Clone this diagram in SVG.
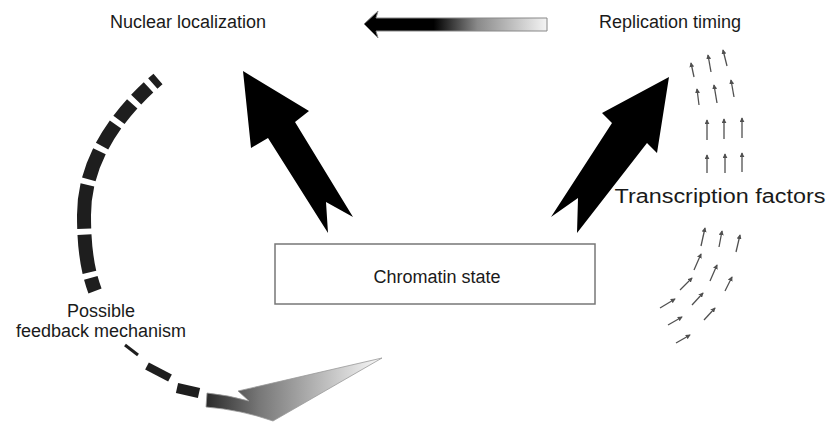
<svg xmlns="http://www.w3.org/2000/svg" width="829" height="423" viewBox="0 0 829 423">
<style>
  .lbl { font-family: "Liberation Sans", Arial, sans-serif; fill: #1a1a1a; text-anchor: middle; }
  .big { fill: #000; }
  .tf line { stroke: #505050; stroke-width: 1.3; marker-end: url(#tip); }
  .dash { fill: none; stroke: #1e1e1e; stroke-linecap: butt; }
</style>
<defs>
  <marker id="tip" viewBox="0 0 6 6" refX="5" refY="3" markerWidth="5" markerHeight="5" markerUnits="userSpaceOnUse" orient="auto">
    <path d="M0,0 L6,3 L0,6 Z" fill="#505050"/>
  </marker>
  <linearGradient id="gTop" gradientUnits="userSpaceOnUse" x1="364" y1="0" x2="547" y2="0">
    <stop offset="0" stop-color="#000"/>
    <stop offset="0.38" stop-color="#000"/>
    <stop offset="0.62" stop-color="#8a8a8a"/>
    <stop offset="1" stop-color="#f4f4f4"/>
  </linearGradient>
  <linearGradient id="gLow" gradientUnits="userSpaceOnUse" x1="206" y1="0" x2="382" y2="0">
    <stop offset="0" stop-color="#2a2a2a"/>
    <stop offset="0.3" stop-color="#777"/>
    <stop offset="1" stop-color="#fafafa"/>
  </linearGradient>
</defs>
<rect width="829" height="423" fill="#fff"/>

<g id="connectors">
  <polygon id="arrow-chromatin-nuclear" class="big" points="243,71 309,111 295,122 353,217 326,202 328,233 268,138 251,148"/>
  <polygon id="arrow-chromatin-replication" class="big" points="669,77 657,153 647,143 577,233 578,198 551,217 612,123 602,113"/>
  <path id="arrow-replication-nuclear" d="M364,24 L378,11 L376,18 L547,18 L547,31 L376,31 L378,38 Z" fill="url(#gTop)" stroke="#888" stroke-width="1"/>
  <g id="feedback">
    <path class="dash" stroke-width="14" pathLength="205" stroke-dasharray="6 5 15 5 18 5 22 5 26 5 38 5 33 5 12 200" d="M158,79 C118,113 84,160 84,215 C84,250 88,272 95,291"/>
    <line class="dash" x1="125" y1="345" x2="138" y2="355" stroke-width="3"/>
    <line class="dash" x1="147" y1="366" x2="170" y2="378" stroke-width="8"/>
    <line class="dash" x1="177" y1="388" x2="199" y2="393" stroke-width="10"/>
    <path d="M207,393 Q228,395 249,401 L238,391 L382,358 L273,421 Q242,410 206,407 Z" fill="url(#gLow)" stroke="#999" stroke-width="0.8"/>
  </g>
</g>

<g id="node-chromatin">
  <rect x="275" y="244" width="320" height="60" fill="#fff" stroke="#777" stroke-width="1.5"/>
  <text class="lbl" x="437" y="283" font-size="18">Chromatin state</text>
</g>
<g id="node-nuclear">
  <text class="lbl" x="188" y="28" font-size="18">Nuclear localization</text>
</g>
<g id="node-replication">
  <text class="lbl" x="670" y="28" font-size="18">Replication timing</text>
</g>
<g id="node-tf">
  <text class="lbl" x="720" y="203" font-size="20" textLength="211" lengthAdjust="spacingAndGlyphs">Transcription factors</text>
  <g class="tf">
    <line x1="694" y1="77" x2="691" y2="63"/>
    <line x1="711" y1="72" x2="708" y2="55"/>
    <line x1="727" y1="66" x2="723" y2="50"/>
    <line x1="699" y1="105" x2="697" y2="89"/>
    <line x1="717" y1="103" x2="714" y2="85"/>
    <line x1="734" y1="97" x2="731" y2="80"/>
    <line x1="707" y1="140" x2="707" y2="120"/>
    <line x1="724" y1="139" x2="724" y2="119"/>
    <line x1="742" y1="138" x2="742" y2="118"/>
    <line x1="707" y1="173" x2="707" y2="155"/>
    <line x1="725" y1="173" x2="725" y2="154"/>
    <line x1="742" y1="172" x2="742" y2="153"/>
    <line x1="701" y1="246" x2="705" y2="228"/>
    <line x1="719" y1="247" x2="722" y2="231"/>
    <line x1="736" y1="252" x2="740" y2="235"/>
    <line x1="694" y1="270" x2="701" y2="254"/>
    <line x1="710" y1="281" x2="717" y2="265"/>
    <line x1="725" y1="291" x2="732" y2="277"/>
    <line x1="680" y1="290" x2="692" y2="278"/>
    <line x1="692" y1="305" x2="703" y2="293"/>
    <line x1="704" y1="320" x2="715" y2="308"/>
    <line x1="660" y1="308" x2="675" y2="299"/>
    <line x1="668" y1="325" x2="682" y2="317"/>
    <line x1="676" y1="343" x2="690" y2="335"/>
  </g>
</g>
<g id="node-feedback-label">
  <text class="lbl" x="101" y="317" font-size="18">Possible</text>
  <text class="lbl" x="101" y="337" font-size="18">feedback mechanism</text>
</g>
</svg>
